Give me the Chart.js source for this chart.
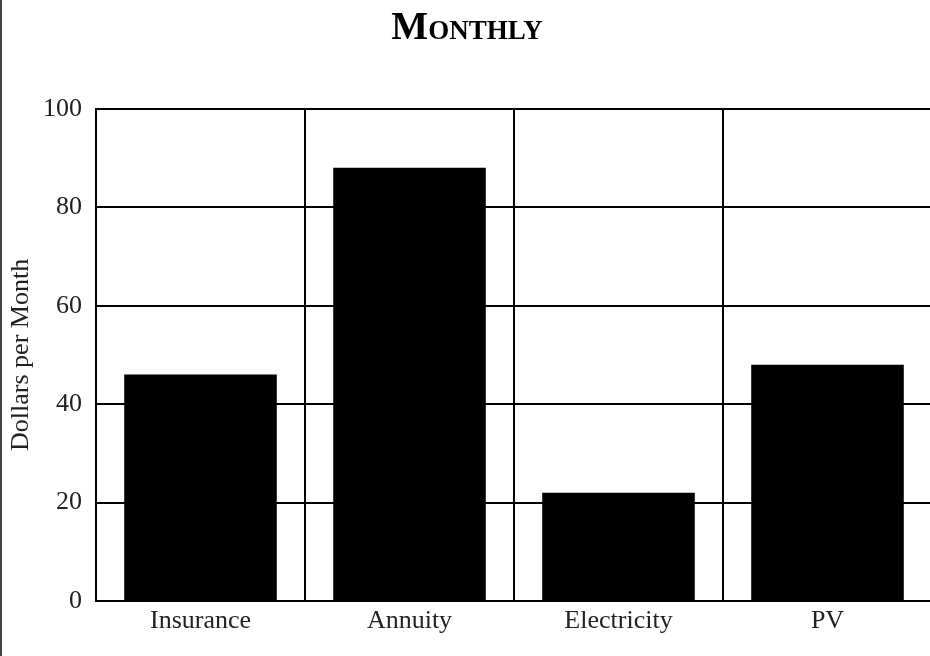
<!DOCTYPE html>
<html>
<head>
<meta charset="utf-8">
<script src="https://cdn.jsdelivr.net/npm/chart.js@4"></script>
<style>
  body { margin: 0; background: #fff; }
  #wrap { width: 928px; height: 656px; border-left: 2px solid #444; overflow: hidden; }
  canvas { display: block; }
</style>
</head>
<body>
<div id="wrap"><canvas id="monthlyChart" width="930" height="656"></canvas></div>
<script>
// chart data
const categories = ['Insurance', 'Annuity', 'Electricity', 'PV'];
const dollarsPerMonth = [46, 88, 22, 48];
const yTicks = [0, 20, 40, 60, 80, 100];

const serif = "'Liberation Serif', 'Times New Roman', serif";

document.addEventListener('DOMContentLoaded', function() {
    var ctx = document.getElementById('monthlyChart').getContext('2d');
    new Chart(ctx, {
        type: 'bar',
        data: {
            labels: categories,
            datasets: [{
                label: 'Monthly',
                data: dollarsPerMonth,
                backgroundColor: '#000',
                borderWidth: 0,
                barPercentage: 0.73,
                categoryPercentage: 1
            }]
        },
        options: {
            responsive: false,
            animation: false,
            layout: { padding: 0 },
            plugins: {
                legend: { display: false },
                tooltip: { enabled: false },
                title: {
                    display: true,
                    text: 'Monthly',
                    color: '#000',
                    // small caps goes in through the weight part of the font string
                    font: { family: serif, size: 39, weight: 'small-caps bold' },
                    padding: { top: 6, bottom: 56 }
                }
            },
            scales: {
                x: {
                    grid: { offset: true, color: '#000', lineWidth: 2, drawTicks: false },
                    border: { color: '#000', width: 2 },
                    ticks: { color: '#222', padding: 5, font: { family: serif, size: 26 } },
                    afterFit: function(scale) { scale.height = 55; }
                },
                y: {
                    min: 0,
                    max: 100,
                    afterBuildTicks: function(scale) {
                        scale.ticks = yTicks.map(function(v) { return { value: v }; });
                    },
                    grid: { color: '#000', lineWidth: 2, drawTicks: false },
                    border: { color: '#000', width: 2 },
                    ticks: { color: '#222', padding: 14, font: { family: serif, size: 26 } },
                    title: {
                        display: true,
                        text: 'Dollars per Month',
                        color: '#222',
                        font: { family: serif, size: 26 },
                        padding: { top: 4, bottom: 0 }
                    },
                    afterFit: function(scale) { scale.width = 94; }
                }
            }
        }
    });
});
</script>
</body>
</html>
